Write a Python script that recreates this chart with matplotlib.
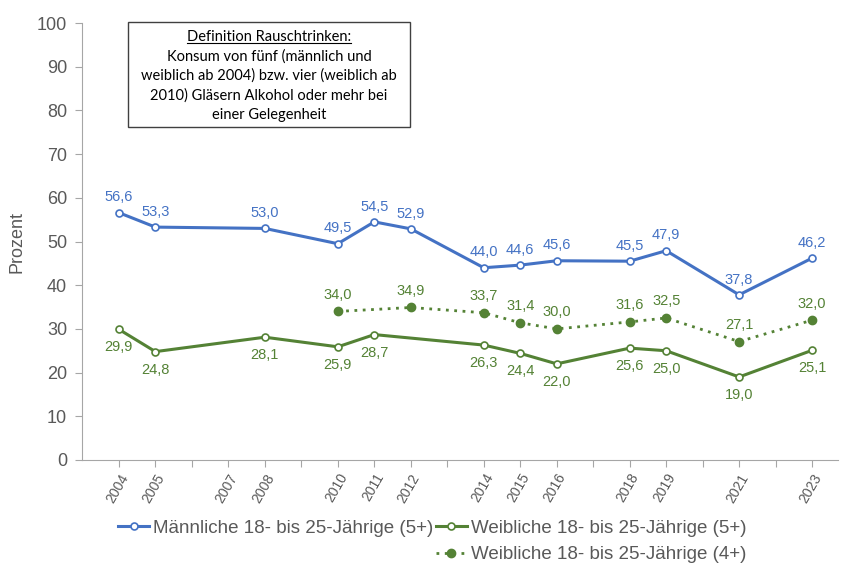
import matplotlib
matplotlib.use("Agg")
import matplotlib.pyplot as plt
from matplotlib.lines import Line2D
from matplotlib.patches import Rectangle

# --- Daten ---
jahre_m = [2004, 2005, 2008, 2010, 2011, 2012, 2014, 2015, 2016, 2018, 2019, 2021, 2023]
maenner_5 = [56.6, 53.3, 53.0, 49.5, 54.5, 52.9, 44.0, 44.6, 45.6, 45.5, 47.9, 37.8, 46.2]

jahre_w5 = [2004, 2005, 2008, 2010, 2011, 2014, 2015, 2016, 2018, 2019, 2021, 2023]
frauen_5 = [29.9, 24.8, 28.1, 25.9, 28.7, 26.3, 24.4, 22.0, 25.6, 25.0, 19.0, 25.1]

jahre_w4 = [2010, 2012, 2014, 2015, 2016, 2018, 2019, 2021, 2023]
frauen_4 = [34.0, 34.9, 33.7, 31.4, 30.0, 31.6, 32.5, 27.1, 32.0]

tick_jahre = [2004, 2005, 2007, 2008, 2010, 2011, 2012, 2014, 2015, 2016, 2018, 2019, 2021, 2023]

labels = ["Männliche 18- bis 25-Jährige (5+)",
          "Weibliche 18- bis 25-Jährige (5+)",
          "Weibliche 18- bis 25-Jährige (4+)"]

BLAU = "#4472C4"
GRUEN = "#548235"
GRAU = "#595959"
ACHSE = "#A6A6A6"

plt.rcParams["font.family"] = ["Liberation Sans", "DejaVu Sans"]

fig = plt.figure(figsize=(8.41, 5.63), dpi=100)
ax = fig.add_axes([0.098, 0.183, 0.898, 0.776])

l1, = ax.plot(jahre_m, maenner_5, color=BLAU, lw=2.2, marker="o", ms=5,
              mfc="white", mec=BLAU, mew=1.2, label=labels[0])
l2, = ax.plot(jahre_w5, frauen_5, color=GRUEN, lw=2.2, marker="o", ms=5,
              mfc="white", mec=GRUEN, mew=1.2, label=labels[1])
l3, = ax.plot(jahre_w4, frauen_4, color=GRUEN, lw=2, ls=(0, (1, 2)), marker="o",
              ms=6, mfc=GRUEN, mec=GRUEN, label=labels[2])

def fmt(v):
    return f"{v:.1f}".replace(".", ",")

for x, y in zip(jahre_m, maenner_5):
    ax.annotate(fmt(y), (x, y), xytext=(0, 11), textcoords="offset points",
                ha="center", va="center", color=BLAU, fontsize=10.5)
for x, y in zip(jahre_w5, frauen_5):
    ax.annotate(fmt(y), (x, y), xytext=(0, -13), textcoords="offset points",
                ha="center", va="center", color=GRUEN, fontsize=10.5)
for x, y in zip(jahre_w4, frauen_4):
    ax.annotate(fmt(y), (x, y), xytext=(0, 12), textcoords="offset points",
                ha="center", va="center", color=GRUEN, fontsize=10.5)

# --- Achsen ---
ax.set_xlim(2003, 2023.7)
ax.set_ylim(0, 100)
ax.set_yticks(range(0, 101, 10))
ax.set_xticks(range(2004, 2024))
ax.set_xticklabels([str(j) if j in tick_jahre else "" for j in range(2004, 2024)],
                   rotation=60, ha="right", rotation_mode="anchor")
ax.tick_params(axis="y", labelsize=13, colors=ACHSE, labelcolor=GRAU, length=5, pad=6)
ax.tick_params(axis="x", labelsize=10, colors=ACHSE, labelcolor=GRAU, length=5, pad=3)
for s in ["top", "right"]:
    ax.spines[s].set_visible(False)
for s in ["left", "bottom"]:
    ax.spines[s].set_color(ACHSE)
ax.set_ylabel("Prozent", fontsize=13, color=GRAU, labelpad=8)

# --- Legende ---
leer = Line2D([], [], alpha=0)
ax.legend([l1, leer, l2, l3], [labels[0], " ", labels[1], labels[2]],
          ncol=2, loc="upper center", bbox_to_anchor=(0.463, -0.098),
          frameon=False, fontsize=13.5, labelcolor=GRAU, handlelength=1.65,
          handletextpad=0.2, columnspacing=0.15, labelspacing=0.5)

# --- Definitionskasten ---
fig.add_artist(Rectangle((0.152, 0.774), 0.335, 0.1865, transform=fig.transFigure,
                         fill=False, edgecolor="#404040", lw=1))
cx = 0.32
titel = fig.text(cx, 1 - 37 / 563, "Definition Rauschtrinken:", ha="center",
                 va="center", fontsize=10.5, family="Lato", color="black")
zeilen = ["Konsum von fünf (männlich und",
          "weiblich ab 2004) bzw. vier (weiblich ab",
          "2010) Gläsern Alkohol oder mehr bei",
          "einer Gelegenheit"]
for i, z in enumerate(zeilen):
    fig.text(cx, 1 - (56.5 + i * 19.5) / 563, z, ha="center", va="center",
             fontsize=10.5, family="Lato", color="black")

# Unterstreichung
fig.canvas.draw()
bb = titel.get_window_extent().transformed(fig.transFigure.inverted())
fig.add_artist(Line2D([bb.x0, bb.x1], [bb.y0 + 0.002, bb.y0 + 0.002],
                      transform=fig.transFigure, color="black", lw=0.8))

fig.savefig("out.png", dpi=100)
